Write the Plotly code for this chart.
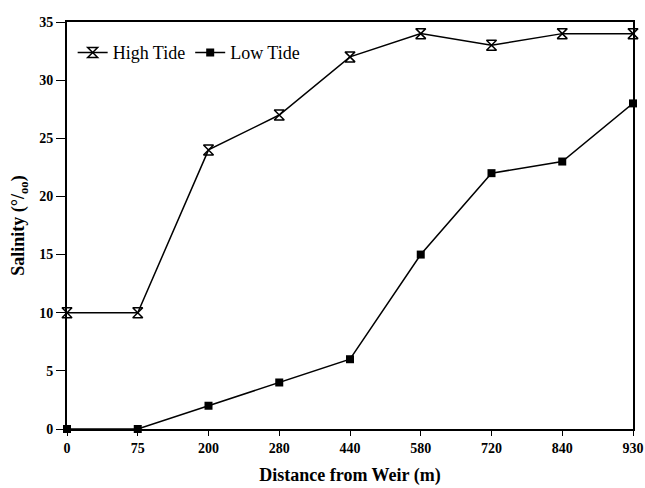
import plotly.graph_objects as go

distances = ["0", "75", "200", "280", "440", "580", "720", "840", "930"]
high_tide = [10, 10, 24, 27, 32, 34, 33, 34, 34]
low_tide = [0, 0, 2, 4, 6, 15, 22, 23, 28]
y_ticks = [0, 5, 10, 15, 20, 25, 30, 35]

xpos = list(range(len(distances)))
font_family = "Liberation Serif, Times New Roman, serif"

fig = go.Figure()
fig.add_trace(go.Scatter(
    x=xpos, y=high_tide, name="High Tide", mode="lines+markers",
    line=dict(color="black", width=1.5),
    marker=dict(symbol="hourglass-open", size=10, color="black", line=dict(width=1.5, color="black")),
    cliponaxis=False,
))
fig.add_trace(go.Scatter(
    x=xpos, y=low_tide, name="Low Tide", mode="lines+markers",
    line=dict(color="black", width=1.5),
    marker=dict(symbol="square", size=8, color="black"),
    cliponaxis=False,
))

fig.update_layout(
    width=645, height=488,
    margin=dict(l=67, r=12, t=22, b=59, autoexpand=False),
    paper_bgcolor="white", plot_bgcolor="white",
    font=dict(family=font_family, color="black", size=14),
    showlegend=True,
    legend=dict(orientation="h", x=0.01, y=0.97, xanchor="left", yanchor="top",
                font=dict(size=18, family=font_family), bgcolor="rgba(0,0,0,0)",
                itemwidth=30, tracegroupgap=0),
    xaxis=dict(
        range=[0, 8], tickmode="array", tickvals=xpos, ticktext=distances,
        showgrid=False, zeroline=False, showline=True, linecolor="black", linewidth=2,
        mirror=True, ticks="outside", ticklen=5, tickcolor="black",
        ticklabeloverflow="allow", automargin=False,
        tickfont=dict(size=14, family=font_family, weight="bold"),
        title=dict(text="<b>Distance from Weir (m)</b>", font=dict(size=18), standoff=14),
    ),
    yaxis=dict(
        range=[0, 35], tickmode="array", tickvals=y_ticks,
        showgrid=False, zeroline=False, showline=True, linecolor="black", linewidth=2,
        mirror=True, ticks="outside", ticklen=9, tickcolor="black",
        ticklabeloverflow="allow", automargin=False,
        tickfont=dict(size=14, family=font_family, weight="bold"),
        title=dict(text="<b>Salinity (°/<sub>oo</sub>)</b>", font=dict(size=18), standoff=10),
    ),
)

fig.write_html("out.html", config={"displayModeBar": False},
               post_script="document.body.style.margin='0';document.body.style.overflow='hidden';")
